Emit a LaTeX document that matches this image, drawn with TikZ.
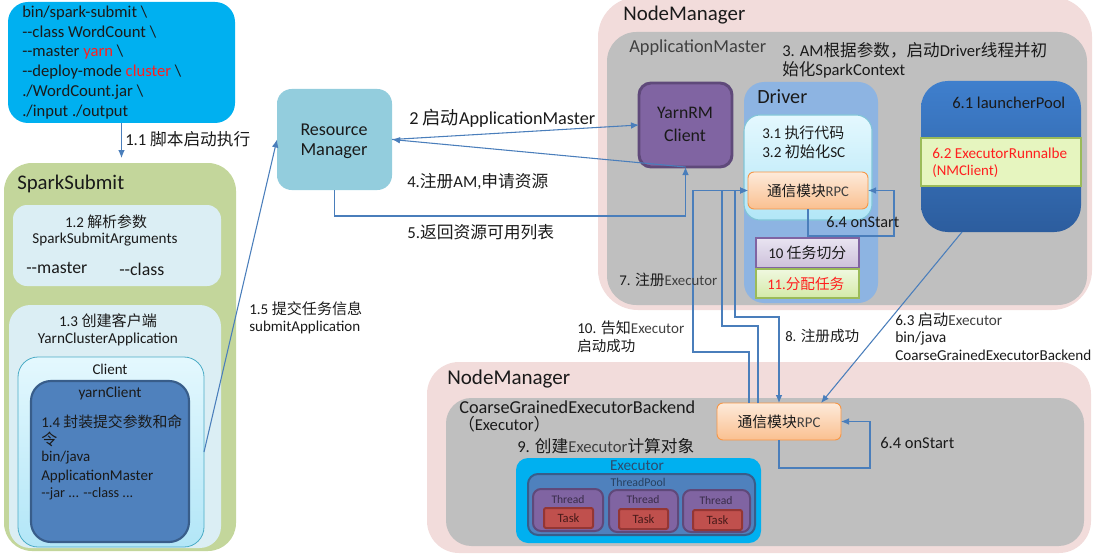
\documentclass[tikz,border=0pt]{standalone}
\usepackage{fontspec}
\usepackage{graphicx}
\setmainfont{Carlito}
\newfontfamily\cjk{Noto Sans CJK SC}
\usetikzlibrary{arrows.meta,fit,calc}
\newcommand\zh[1]{{\cjk #1}}
\newdimen\px \px=0.75pt
\newcommand\W[2]{\resizebox{#1\px}{!}{#2}}
\newcommand\dd{-\kern0pt-}
\newcommand\bs{\textbackslash}
\definecolor{cmdc}{HTML}{00B0F0}
\definecolor{ssg}{HTML}{C3D69B}
\definecolor{lb}{HTML}{DBEEF4}
\definecolor{cyt}{HTML}{E4F8FE}
\definecolor{cyb}{HTML}{B2E6F7}
\definecolor{cyd}{HTML}{4BACC6}
\definecolor{blu}{HTML}{4F81BD}
\definecolor{blud}{HTML}{385D8A}
\definecolor{rmc}{HTML}{93CDDD}
\definecolor{nmp}{HTML}{F2DCDB}
\definecolor{gry}{HTML}{BFBFBF}
\definecolor{pur}{HTML}{8064A2}
\definecolor{purd}{HTML}{5F497A}
\definecolor{drvc}{HTML}{8DB4E2}
\definecolor{ort}{HTML}{FDEADA}
\definecolor{orb}{HTML}{FAC090}
\definecolor{ord}{HTML}{F79646}
\definecolor{lvt}{HTML}{E9E4F1}
\definecolor{lvb}{HTML}{CCC0DA}
\definecolor{grt}{HTML}{F0F8E0}
\definecolor{grb}{HTML}{D4EAA8}
\definecolor{grd}{HTML}{9BBB59}
\definecolor{lpt}{HTML}{3F7FCD}
\definecolor{lpb}{HTML}{2C5D9E}
\definecolor{ylg}{HTML}{E6F5BF}
\definecolor{tsk}{HTML}{C0504D}
\definecolor{tskd}{HTML}{943634}
\definecolor{ac}{HTML}{4A7EBB}
\definecolor{redc}{HTML}{FF1F1F}
\definecolor{txt}{HTML}{1A1A1A}
\definecolor{gtx}{HTML}{404040}
\begin{document}
\begin{tikzpicture}[x=0.75pt,y=-0.75pt,
  bx/.style={inner sep=0pt,outer sep=0pt},
  lab/.style={inner sep=0pt,anchor=west,text=txt,font=\fontsize{12}{14}\selectfont},
  clab/.style={inner sep=0pt,anchor=center,text=txt,font=\fontsize{12}{14}\selectfont},
  arr/.style={draw=ac,line width=0.8pt,-{Latex[length=6pt,width=5pt]}},
  rpcbox/.style={bx,top color=ort,bottom color=orb,draw=ord,line width=0.7pt,rounded corners=4.5pt,text=txt,font=\fontsize{12}{14}\selectfont},
  thr/.style={bx,fill=pur,draw=purd,line width=1.5pt,rounded corners=6pt},
  tsb/.style={bx,fill=tsk,draw=tskd,line width=1.5pt,rounded corners=1.5pt,text=tskd!60!black,font=\fontsize{12}{14}\selectfont}
]
\useasboundingbox (0,0) rectangle (1094,556);
% ---------- left column ----------
\node[bx,fit={(8,2)(235,123)},fill=cmdc,rounded corners=15pt] (cmd) {};
\node[bx,fit={(4,163)(236,551)},fill=ssg,rounded corners=21pt] (ss) {};
\node[bx,fit={(13,205)(221,286)},fill=lb,rounded corners=10.5pt] (b12) {};
\node[bx,fit={(9,305)(221,548)},fill=lb,rounded corners=16pt] (b13) {};
\node[bx,fit={(18,357)(204,547)},top color=cyt,bottom color=cyb,draw=cyd,line width=0.6pt,rounded corners=15pt] (client) {};
\node[bx,fit={(31,381)(189,542)},fill=blu,draw=blud,line width=1.6pt,rounded corners=15pt] (yc) {};
\node[bx,fit={(277,89)(392,190)},fill=rmc,rounded corners=11pt] (rm) {};
% ---------- top node manager ----------
\node[bx,fit={(598,-3)(1092,310)},fill=nmp,rounded corners=30pt] (nm1) {};
\node[bx,fit={(607,32)(1087,305)},fill=gry,rounded corners=22pt] (am) {};
\node[bx,fit={(639,83)(732,167)},fill=pur,draw=purd,line width=2.2pt,rounded corners=9pt] (yrm) {};
\node[bx,fit={(744,82)(878,303)},fill=drvc,rounded corners=15pt] (drv) {};
\node[bx,fit={(744,115)(872,220)},top color=cyt,bottom color=cyb,draw=cyd!70,line width=0.8pt,rounded corners=12pt] (dcy) {};
\node[rpcbox,fit={(748,172)(868,209)}] (drpc) {};
\node[bx,fit={(756,238)(859,268)},top color=lvt,bottom color=lvb,draw=pur,line width=0.9pt] (t10) {};
\node[bx,fit={(756,269)(859,298)},top color=grt,bottom color=grb,draw=grd,line width=0.9pt] (t11) {};
\node[bx,fit={(921,81)(1081,232)},top color=lpt,bottom color=lpb,rounded corners=20pt] (lp) {};
\node[bx,fit={(921,138)(1081,186)},fill=ylg,draw=grd,line width=1.4pt] (b62) {};
% ---------- bottom node manager ----------
\node[bx,fit={(427,362)(1091,553)},fill=nmp,rounded corners=24pt] (nm2) {};
\node[bx,fit={(446,398)(1084,546)},fill=gry,rounded corners=19pt] (cg) {};
\node[rpcbox,fit={(717,403)(841,440)}] (erpc) {};
\node[bx,fit={(516,458)(761,543)},fill=cmdc,rounded corners=9pt] (exe) {};
\node[bx,fit={(528,474)(755,535)},fill=blu,draw=blud,line width=1.5pt,rounded corners=7.5pt] (tp) {};
\node[thr,fit={(533,489)(603,531)}] (th1) {};
\node[thr,fit={(609,490)(678,532)}] (th2) {};
\node[thr,fit={(683,490)(750,532)}] (th3) {};
\node[tsb,fit={(544,508)(593,528)}] (tk1) {};
\node[tsb,fit={(619,509)(668,529)}] (tk2) {};
\node[tsb,fit={(693,510)(742,530)}] (tk3) {};
% ---------- connectors ----------
\draw[arr,shorten >=3.75pt] (cmd.south) -- (cmd.south |- ss.north);
\draw[arr] (client.east) -- (rm.west);
\draw[arr] (rm.east) -- (yrm.west);
\draw[arr] (yrm.south) -- (rm.east);
\draw[arr] (rm.south) -- ++(0,26) -| (yrm.south);
\draw[arr] (drpc.south) -- ++(0,27) -- ++(86,0) |- (drpc.east);
\draw[arr] (erpc.south) -- ++(0,28) -- ++(91,0) |- (erpc.east);
\draw[arr] ($(erpc.north west)+(32,0)$) |- (693,352) |- (drpc.west);
\draw[arr] ($(erpc.north west)+(41,0)$) |- (722,326) |- (drpc.west);
\draw[arr] ($(drpc.west)+(-13,0)$) -- (735,317) -| (erpc.north);
\draw[arr] ($(lp.south)+(-39,0)$) -- ($(erpc.north east)+(-20,0)$);
% ---------- texts ----------
\node[lab] (c1) at (22,13) {\W{125}{bin/spark-submit \bs}};
\node[lab] (c2) at (22,32) {\W{134}{\dd class WordCount \bs}};
\node[lab] (c3) at (22,52) {\W{101}{\dd master \textcolor{redc}{yarn} \bs}};
\node[lab] (c4) at (22,72) {\W{159}{\dd deploy-mode \textcolor{redc}{cluster} \bs}};
\node[lab] (c5) at (22,92) {\W{121}{./WordCount.jar \bs}};
\node[lab] (c6) at (22,112) {\W{106}{./input ./output}};
\node[lab] (l11) at (125,139) {\W{125}{1.1 \zh{脚本启动执行}}};
\node[lab] (lss) at (17,184) {\W{107}{SparkSubmit}};
\node[clab] (l12) at (106,222) {\W{82}{1.2 \zh{解析参数}}};
\node[clab] (l12b) at (105,240) {\W{145}{SparkSubmitArguments}};
\node[lab] (lm) at (26,268) {\W{61}{\dd master}};
\node[lab] (lc) at (119,269) {\W{45}{\dd class}};
\node[clab] (l13) at (108,321) {\W{98}{1.3 \zh{创建客户端}}};
\node[clab] (l13b) at (108,339) {\W{140}{YarnClusterApplication}};
\node[clab] (lcl) at (110,369) {\W{35}{Client}};
\node[clab] (lyc) at (110,393) {\W{63}{yarnClient}};
\node[lab] (l14) at (41,422) {\W{141}{1.4 \zh{封装提交参数和命}}};
\node[lab] (l14b) at (41,439) {\W{16}{\zh{令}}};
\node[lab] (l14c) at (41,458) {\W{49}{bin/java}};
\node[lab] (l14d) at (41,476) {\W{112}{ApplicationMaster}};
\node[lab] (l14e) at (41,494) {\W{92}{\dd jar ... \dd class ...}};
\node[lab] (l15) at (249,309) {\W{113}{1.5 \zh{提交任务信息}}};
\node[lab] (l15b) at (249,327) {\W{111}{submitApplication}};
\node[clab] (lrm1) at (334,130) {\W{67}{Resource}};
\node[clab] (lrm2) at (334,151) {\W{67}{Manager}};
\node[lab] (l2) at (409,118) {\W{186}{2 \zh{启动}ApplicationMaster}};
\node[lab] (l4) at (407,182) {\W{141}{4.\zh{注册}AM,\zh{申请资源}}};
\node[lab] (l5) at (407,232) {\W{147}{5.\zh{返回资源可用列表}}};
\node[lab] (lnm1) at (623,15) {\W{122}{NodeManager}};
\node[lab] (lam) at (629,48) {\W{137}{\textcolor{gtx}{ApplicationMaster}}};
\node[lab] (l3) at (782,50) {\W{265}{3. AM\zh{根据参数，启动}Driver\zh{线程并初}}};
\node[lab] (l3b) at (782,70) {\W{123}{\zh{始化}SparkContext}};
\node[clab] (lyrm1) at (685,113) {\W{56}{YarnRM}};
\node[clab] (lyrm2) at (685,135) {\W{42}{Client}};
\node[lab] (ldrv) at (757,97) {\W{50}{Driver}};
\node[lab] (l31) at (762,133) {\W{82}{3.1 \zh{执行代码}}};
\node[lab] (l32) at (762,152) {\W{83}{3.2 \zh{初始化}SC}};
\node[clab] (lrpc1) at (drpc.center) {\W{82}{\zh{通信模块}\textcolor{gtx}{RPC}}};
\node[lab] (l64a) at (826,222) {\W{73}{6.4 onStart}};
\node[lab] (l10) at (768,253) {\W{78}{10 \zh{任务切分}}};
\node[lab] (l11b) at (767,284) {\W{77}{\textcolor{redc}{11.\zh{分配任务}}}};
\node[lab] (l61) at (952,103) {\W{113}{6.1 launcherPool}};
\node[lab] (l62) at (932,153) {\W{135}{\textcolor{redc}{6.2 ExecutorRunnalbe}}};
\node[lab] (l62b) at (932,171) {\W{66}{\textcolor{redc}{(NMClient)}}};
\node[lab] (l7) at (619,280) {\W{98}{7. \zh{注册}\textcolor{gtx}{Executor}}};
\node[lab] (l10a) at (577,328) {\W{107}{10. \zh{告知}\textcolor{gtx}{Executor}}};
\node[lab] (l10b) at (577,346) {\W{58}{\zh{启动成功}}};
\node[lab] (l8) at (785,336) {\W{74}{8. \zh{注册成功}}};
\node[lab] (l63) at (895,320) {\W{107}{6.3 \zh{启动}\textcolor{gtx}{Executor}}};
\node[lab] (l63b) at (895,338) {\W{51}{bin/java}};
\node[lab] (l63c) at (895,355) {\W{196}{CoarseGrainedExecutorBackend}};
\node[lab] (lnm2) at (447,379) {\W{123}{NodeManager}};
\node[lab] (lcg) at (459,407) {\W{236}{CoarseGrainedExecutorBackend}};
\node[lab] (lcg2) at (458,424) {\W{92}{\zh{（}Executor\zh{）}}};
\node[lab] (l9) at (517,446) {\W{177}{9. \zh{创建}\textcolor{gtx}{Executor}\zh{计算对象}}};
\node[clab] (lrpc2) at (erpc.center) {\W{83}{\zh{通信模块}\textcolor{gtx}{RPC}}};
\node[lab] (l64b) at (880,443) {\W{74}{6.4 onStart}};
\node[clab,text=blud!80!black] (lexe) at (637,466) {\W{54}{Executor}};
\node[clab,text=blud!70!black] (ltp) at (638,482) {\W{55}{ThreadPool}};
\node[clab,text=purd!60!black] (lth1) at (568,500) {\W{33}{Thread}};
\node[clab,text=purd!60!black] (lth2) at (643,500) {\W{33}{Thread}};
\node[clab,text=purd!60!black] (lth3) at (716,501) {\W{33}{Thread}};
\node[clab,text=tskd!50!black] (ltk1) at (tk1.center) {\W{22}{Task}};
\node[clab,text=tskd!50!black] (ltk2) at (tk2.center) {\W{22}{Task}};
\node[clab,text=tskd!50!black] (ltk3) at (tk3.center) {\W{22}{Task}};
\end{tikzpicture}
\end{document}
